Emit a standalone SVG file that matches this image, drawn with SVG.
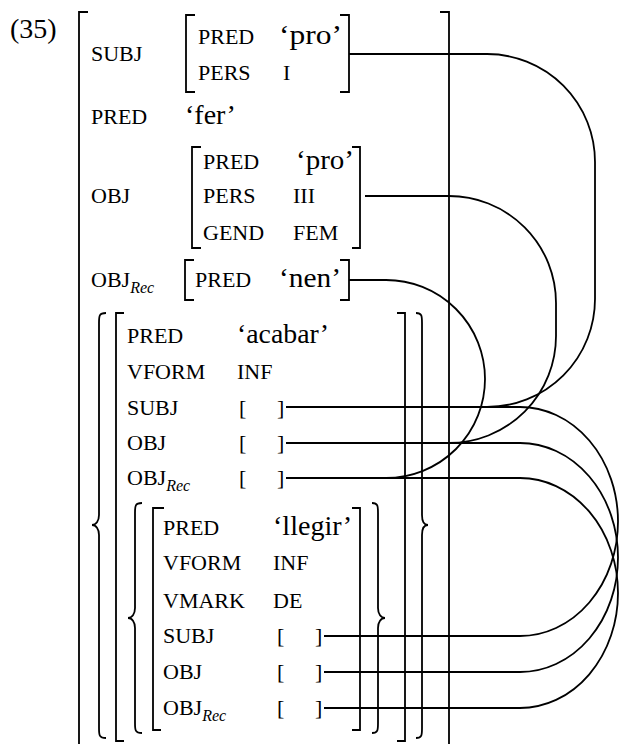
<svg xmlns="http://www.w3.org/2000/svg" width="619" height="744" viewBox="0 0 619 744">
<style>
text{font-family:"Liberation Serif","Times New Roman",serif;font-size:22px;fill:#000}
.v{font-size:28px}
.sub{font-style:italic;font-size:16px}
.br{fill:none;stroke:#000;stroke-width:1.8}
.cn{fill:none;stroke:#000;stroke-width:1.8}
</style>
<rect width="619" height="744" fill="#fff"/>
<text x="10" y="38" style="font-size:28px">(35)</text>
<g id="outer">
<path class="br" d="M88 12H79V744"/>
<path class="br" d="M440 12H449V744"/>
<text x="91" y="61">SUBJ</text>
<text x="91" y="124">PRED</text><text class="v" x="185" y="124">‘fer’</text>
<text x="91" y="203">OBJ</text>
<text x="91" y="287">OBJ<tspan class="sub" dy="6">Rec</tspan></text>
</g>
<g id="subj">
<path class="br" d="M195 15H186V92H195"/>
<path class="br" d="M340 15H349V92H340"/>
<text x="198" y="44">PRED</text><text class="v" x="279" y="44" textLength="63" lengthAdjust="spacingAndGlyphs">‘pro’</text>
<text x="198" y="80">PERS</text><text x="283" y="80">I</text>
</g>
<g id="obj">
<path class="br" d="M201 147H192V248H201"/>
<path class="br" d="M352 147H360V248H352"/>
<text x="203" y="169">PRED</text><text class="v" x="296" y="169" textLength="58" lengthAdjust="spacingAndGlyphs">‘pro’</text>
<text x="203" y="203">PERS</text><text x="293" y="203">III</text>
<text x="203" y="240">GEND</text><text x="293" y="240">FEM</text>
</g>
<g id="objrec">
<path class="br" d="M194 260H185V300H194"/>
<path class="br" d="M340 260H349V300H340"/>
<text x="195" y="287">PRED</text><text class="v" x="279" y="287" textLength="62" lengthAdjust="spacingAndGlyphs">‘nen’</text>
</g>
<g id="acabar">
<path class="br" d="M106 313C99 313 99 316 99 323V515C99 521 96 525 92 525C96 525 99 529 99 535V728C99 735 99 738 106 738"/>
<path class="br" d="M416 313C422 313 422 316 422 323V515C422 521 424 525 428 525C424 525 422 529 422 535V728C422 735 422 738 416 738"/>
<path class="br" d="M124 313H116V741H124"/>
<path class="br" d="M397 313H405V741H397"/>
<text x="127" y="343">PRED</text><text class="v" x="237" y="343" textLength="92" lengthAdjust="spacingAndGlyphs">‘acabar’</text>
<text x="127" y="379">VFORM</text><text x="237" y="379">INF</text>
<text x="127" y="415">SUBJ</text><text x="239" y="415">[</text><text x="277" y="415">]</text>
<text x="127" y="450">OBJ</text><text x="239" y="450">[</text><text x="277" y="450">]</text>
<text x="127" y="485">OBJ<tspan class="sub" dy="6">Rec</tspan></text><text x="239" y="485">[</text><text x="277" y="485">]</text>
</g>
<g id="llegir">
<path class="br" d="M142 503C135 503 135 506 135 513V608C135 614 132 618 128 618C132 618 135 622 135 628V723C135 730 135 733 142 733"/>
<path class="br" d="M372 503C378 503 378 506 378 513V608C378 614 381 618 385 618C381 618 378 622 378 628V723C378 730 378 733 372 733"/>
<path class="br" d="M164 508H153V730H161"/>
<path class="br" d="M352 508H360V730H352"/>
<text x="163" y="535">PRED</text><text class="v" x="273" y="535" textLength="79" lengthAdjust="spacingAndGlyphs">‘llegir’</text>
<text x="163" y="570">VFORM</text><text x="273" y="570">INF</text>
<text x="163" y="608">VMARK</text><text x="273" y="608">DE</text>
<text x="163" y="643">SUBJ</text><text x="277" y="643">[</text><text x="315" y="643">]</text>
<text x="163" y="679">OBJ</text><text x="277" y="679">[</text><text x="315" y="679">]</text>
<text x="163" y="715">OBJ<tspan class="sub" dy="6">Rec</tspan></text><text x="277" y="715">[</text><text x="315" y="715">]</text>
</g>
<g id="connectors">
<path class="cn" d="M349 54H487A108 108 0 0 1 595 162V299A108 108 0 0 1 487 407H286"/>
<path class="cn" d="M365 196H449A107 107 0 0 1 556 303V336A107 107 0 0 1 449 443H286"/>
<path class="cn" d="M349 280H386A99 99 0 0 1 485 379A99 99 0 0 1 386 478H286"/>
<path class="cn" d="M286 407H520A98 114.5 0 0 1 618 521.5A98 114.5 0 0 1 520 636H324"/>
<path class="cn" d="M286 443H520A98 114.5 0 0 1 618 557.5A98 114.5 0 0 1 520 672H324"/>
<path class="cn" d="M286 478H520A98 115 0 0 1 618 593A98 115 0 0 1 520 708H324"/>
</g>
</svg>
